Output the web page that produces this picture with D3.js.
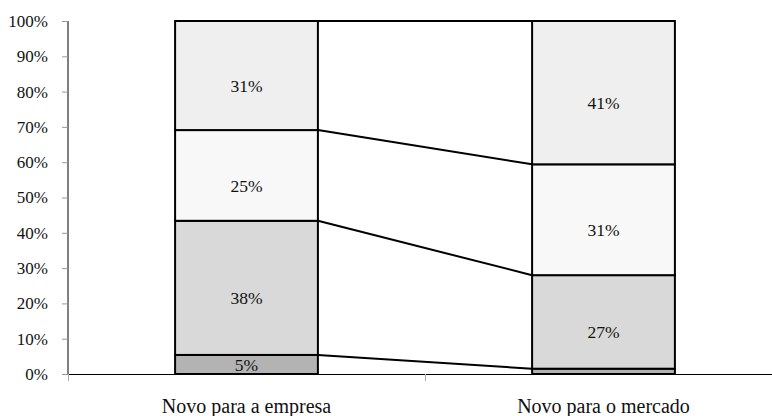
<!DOCTYPE html>
<html><head><meta charset="utf-8">
<script src="https://cdn.jsdelivr.net/npm/d3@7"></script>
<style>body{margin:0;background:#fff}svg{display:block}</style>
</head><body>
<svg id="c" width="772" height="416"></svg>
<script>
const categories = ["Novo para a empresa", "Novo para o mercado"];
const segA = [5.4, 1.5];    // bottom
const segB = [38.0, 26.5];
const segC = [25.7, 31.4];
const segD = [30.9, 40.6];  // top
const labelsA = ["5%", ""];
const labelsB = ["38%", "27%"];
const labelsC = ["25%", "31%"];
const labelsD = ["31%", "41%"];
const yTicks = [0,10,20,30,40,50,60,70,80,90,100];
const fills = ["#b3b3b3", "#d9d9d9", "#f8f8f8", "#efefef"];

(function(){
const svg = d3.select("#c");
const mLeft = 68, mRight = 782, mTop = 21, mBottom = 374;
const x = d3.scaleBand().domain(categories).range([mLeft, mRight]).paddingInner(0).paddingOuter(0);
const y = d3.scaleLinear().domain([0, 100]).range([mBottom, mTop]);
const bw = x.bandwidth() * 0.4;
const serif = "'Liberation Serif','Times New Roman',serif";

const series = [segA, segB, segC, segD];
const labels = [labelsA, labelsB, labelsC, labelsD];
const stacks = categories.map((c, i) => {
  const vals = series.map(s => s[i]);
  const tot = d3.sum(vals);
  let cum = 0;
  return vals.map((v, k) => { const y0 = cum; cum += v * 100 / tot; return {k, y0, y1: cum, cat: c, label: labels[k][i]}; });
});

// connector lines
const bounds = [0,1,2,3].map(k => [stacks[0][k].y1, stacks[1][k].y1]);
svg.append("g").selectAll("line").data(bounds).join("line")
  .attr("x1", x(categories[0]) + x.bandwidth()/2 + bw/2)
  .attr("x2", x(categories[1]) + x.bandwidth()/2 - bw/2)
  .attr("y1", d => y(d[0])).attr("y2", d => y(d[1]))
  .attr("stroke", "#000").attr("stroke-width", 2);

// bars
const g = svg.append("g");
stacks.forEach(st => {
  st.forEach(d => {
    const x0 = x(d.cat) + x.bandwidth()/2 - bw/2;
    g.append("rect").attr("x", x0).attr("width", bw)
      .attr("y", y(d.y1)).attr("height", y(d.y0) - y(d.y1))
      .attr("fill", fills[d.k]).attr("stroke", "#000").attr("stroke-width", 2);
    if (d.label) {
      const mid = (y(d.y0) + y(d.y1)) / 2;
      g.append("text").attr("x", x0 + bw/2)
        .attr("y", Math.min(mid + 16.5, y(d.y0) - 3))
        .attr("text-anchor", "middle").attr("font-family", serif)
        .attr("font-size", 17.5).attr("fill", "#111").text(d.label);
    }
  });
});

// y axis
const ya = svg.append("g");
ya.append("line").attr("x1", mLeft).attr("x2", mLeft).attr("y1", mTop).attr("y2", mBottom).attr("stroke", "#000").attr("stroke-width", 1);
ya.selectAll("line.t").data(yTicks).join("line").attr("class","t")
  .attr("x1", mLeft - 6).attr("x2", mLeft).attr("y1", d => y(d) + 0.5).attr("y2", d => y(d) + 0.5)
  .attr("stroke", "#999");
ya.selectAll("text").data(yTicks).join("text")
  .attr("x", 48).attr("y", d => y(d)).attr("dy", "0.35em")
  .attr("text-anchor", "end").attr("font-family", serif).attr("font-size", 17)
  .attr("fill", "#111").text(d => d + "%");

// x axis
const xa = svg.append("g");
xa.append("line").attr("x1", mLeft).attr("x2", mRight).attr("y1", mBottom + 0.5).attr("y2", mBottom + 0.5).attr("stroke", "#000");
xa.selectAll("line.t").data(categories).join("line").attr("class","t")
  .attr("x1", d => x(d) + 0.5).attr("x2", d => x(d) + 0.5).attr("y1", mBottom).attr("y2", mBottom + 7)
  .attr("stroke", "#aaa");
xa.selectAll("text").data(categories).join("text")
  .attr("x", d => x(d) + x.bandwidth()/2).attr("y", 413)
  .attr("text-anchor", "middle").attr("font-family", serif).attr("font-size", 20)
  .attr("fill", "#111").text(d => d);
})();
</script>
</body></html>
